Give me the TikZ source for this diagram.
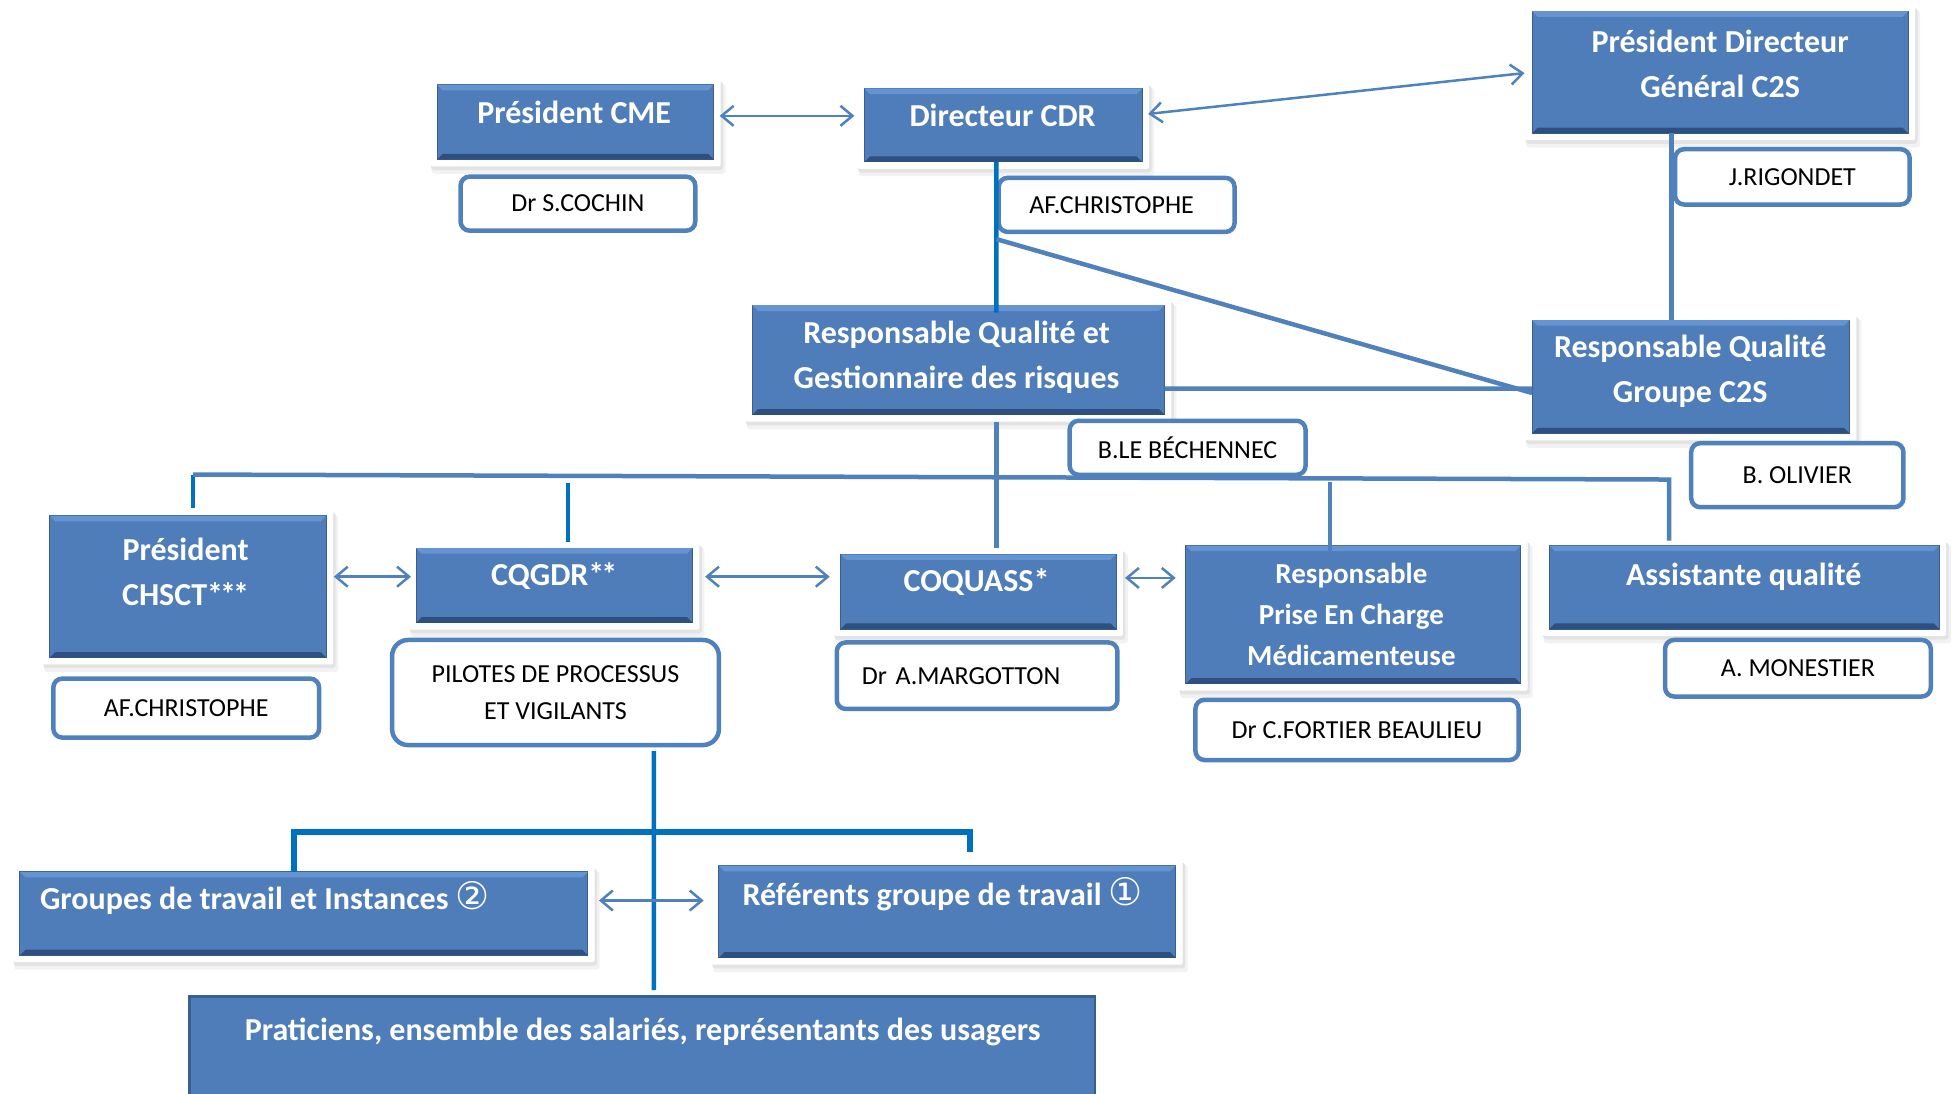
\documentclass[tikz,border=0pt]{standalone}
\usepackage{fontspec}
\setmainfont{Carlito}
\newfontfamily\symf{DejaVu Sans}
\usetikzlibrary{arrows.meta,calc}
\definecolor{boxblue}{RGB}{78,125,186}
\definecolor{bevtop}{RGB}{100,148,210}
\definecolor{bevbot}{RGB}{46,80,128}
\definecolor{boxedge}{RGB}{58,95,143}
\definecolor{lineblue}{RGB}{79,129,189}
\definecolor{darkline}{RGB}{0,112,192}
\newcommand\dpx{1.2455pt}
\newcommand\astk{*\kern-3pt}
% blue box with white frame, soft shadow and bevel: name, x1, y1, x2, y2
\newcommand\bluebox[5]{%
  \fill[black!5, rounded corners=3pt] ({#2-5.5+1},{#3-5.5+5}) rectangle ({#4+5.5+4},{#5+5.5+6});
  \fill[black!11, rounded corners=3pt] ({#2-5.5+0.5},{#3-5.5+3}) rectangle ({#4+5.5+2},{#5+5.5+3});
  \fill[white, rounded corners=2pt] ({#2-5.5},{#3-5.5}) rectangle ({#4+5.5},{#5+5.5});
  \node[bluebox, minimum width={(#4-#2)*\dpx}, minimum height={(#5-#3)*\dpx}] (#1) at ({(#2+#4)/2},{(#3+#5)/2}) {};
  \fill[bevtop] (#2,#3) -- (#4,#3) -- ({#4-4.5},{#3+4.5}) -- ({#2+4.5},{#3+4.5}) -- cycle;
  \fill[bevbot] (#2,#5) -- (#4,#5) -- ({#4-4.5},{#5-4.5}) -- ({#2+4.5},{#5-4.5}) -- cycle;
}
% white rounded name box: [options], name, x1, y1, x2, y2, text
\newcommand\namebox[7][]{%
  \node[namebox, minimum width={(#5-#3)*\dpx-4.5pt}, minimum height={(#6-#4)*\dpx-4.5pt}, #1] (#2) at ({(#3+#5)/2},{(#4+#6)/2}) {#7};
}
\begin{document}
\begin{tikzpicture}[x=1.2455pt, y=-1.2455pt,
  bluebox/.style={rectangle, fill=boxblue, draw=boxedge, line width=1pt, inner sep=0pt, outer sep=0pt},
  namebox/.style={rectangle, draw=lineblue, line width=4.5pt, fill=white, rounded corners=9pt,
    font=\fontsize{26}{37}\selectfont, text=black, align=center, inner sep=0pt},
  ttl/.style={text=white, font=\bfseries\fontsize{32}{45}\selectfont, align=center, inner sep=0pt},
  oneline/.style={text height=24pt, text depth=6pt},
  conn/.style={draw=lineblue, line width=4.5pt},
  dconn/.style={draw=darkline, line width=4.5pt},
  arr/.style={draw=lineblue, line width=2.5pt,
    {Straight Barb[length=12pt,width=20pt]}-{Straight Barb[length=12pt,width=20pt]}},
]
\useasboundingbox (0,0) rectangle (1568,878);
\clip (0,0) rectangle (1568,878);

% ---------- blue boxes ----------
\bluebox{cme}{351}{68}{573}{128}
\bluebox{cdr}{694}{71}{917}{130}
\bluebox{pdg}{1230}{9}{1532}{107}
\bluebox{rqgr}{604}{245}{935}{333}
\bluebox{rqc2s}{1230}{257}{1485}{348}
\bluebox{chsct}{40}{414}{262}{528}
\bluebox{cqgdr}{334}{440}{556}{500}
\bluebox{coquass}{675}{445}{896}{505}
\bluebox{pec}{952}{438}{1221}{549}
\bluebox{asst}{1244}{438}{1557}{505}
\bluebox{groupes}{16}{700}{472}{767}
\bluebox{referents}{577}{695}{944}{769}
\node[bluebox, line width=2.5pt, minimum width={(879-152)*\dpx}, minimum height={100*\dpx}] (prat) at (515.5,850) {};

% ---------- name boxes ----------
\namebox{cochin}{368}{140}{560}{187}{Dr S.COCHIN}
\namebox{christ1}{800}{141}{993}{188}{AF.CHRISTOPHE\kern10pt}
\namebox{rigondet}{1343}{118}{1535}{166}{J.RIGONDET}
\namebox{bechennec}{857}{336}{1050}{383}{B.LE BÉCHENNEC}
\namebox{olivier}{1356}{354}{1530}{409}{B. OLIVIER}
\namebox{christ2}{41}{543}{258}{594}{AF.CHRISTOPHE}
\namebox[rounded corners=16pt]{pilotes}{313}{512}{579}{600}{PILOTES DE PROCESSUS\\ET VIGILANTS}
\namebox[align=left, text width={185*\dpx}]{margotton}{670}{514}{899}{571}{Dr A.MARGOTTON}
\namebox{fortier}{958}{560}{1221}{612}{Dr C.FORTIER BEAULIEU}
\namebox{monestier}{1335}{512}{1552}{561}{A. MONESTIER}

% ---------- connectors ----------
\coordinate (jc) at ($(cdr.south)+(-5.5,0)$);
\coordinate (js) at ($(jc)+(0,62)$);
\draw[dconn] (jc) -- ($(rqgr.north)+(30.5,6)$);
\draw[conn] (js) -- ($(rqc2s.west)+(0,13)$);
\draw[conn] ($(rqgr.east)+(0,23)$) -- ($(rqc2s.west)+(0,9.5)$);
\draw[conn] ($(pdg.south)+(-39,0)$) -- ($(rqc2s.north)+(-15.5,0)$);
\draw[conn] ($(rqgr.south)+(30.5,6)$) -- ($(coquass.north)+(14.5,-5)$);

\coordinate (busL) at ($(chsct.north)+(4,-33)$);
\coordinate (busR) at ($(asst.north)+(-60.5,-53)$);
\draw[dconn] (busL) -- ($(chsct.north)+(4,-6)$);
\draw[dconn] ($(cqgdr.north)+(11,-52)$) -- ($(cqgdr.north)+(11,-5)$);
\draw[conn] ($(pec.north)+(-18.5,-51)$) -- ($(pec.north)+(-18.5,6)$);
\draw[conn] (busL) -- (busR) -- ($(asst.north)+(-60.5,-4)$);

\draw[dconn] ($(pilotes.south)+(79,3)$) -- ($(prat.north)+(9.5,-5)$);
\draw[dconn, line width=6pt] ($(groupes.north)+(-8,0)$) -- ++(0,-32) -- ++(543,0) -- ++(0,16);

\draw[arr, shorten <=6pt, shorten >=10pt] ($(cme.east)+(0,-5)$) -- ($(cdr.west)+(0,-7.5)$);
\draw[arr, shorten <=6pt, shorten >=7.5pt] ($(cdr.east)+(0,-8.5)$) -- (pdg.west);
\draw[arr, shorten <=7.5pt, shorten >=5pt] ($(chsct.east)+(0,-8)$) -- ($(cqgdr.west)+(0,-7)$);
\draw[arr, shorten <=12.5pt, shorten >=11pt] ($(cqgdr.east)+(0,-7)$) -- ($(coquass.west)+(0,-12)$);
\draw[arr, shorten <=9pt, shorten >=10pt] ($(coquass.east)+(0,-11)$) -- ($(pec.west)+(0,-29.5)$);
\draw[arr, shorten <=11pt, shorten >=15pt] ($(groupes.east)+(0,-10.5)$) -- ($(referents.west)+(0,-9)$);

% ---------- titles ----------
\node[ttl,oneline] (cme-t) at (461,92) {Président CME};
\node[ttl,oneline] (cdr-t) at (805,94) {Directeur CDR};
\node[ttl] (pdg-t) at (1381,51) {Président Directeur\\Général C2S};
\node[ttl] (rqgr-t) at (768,287) {Responsable Qualité et\\Gestionnaire des risques};
\node[ttl] (rqc2s-t) at (1357,298) {Responsable Qualité\\Groupe C2S};
\node[ttl] (chsct-t) at (149,459) {Président\\CHSCT\astk\astk*};
\node[ttl,oneline] (cqgdr-t) at (445,463) {CQGDR\astk*};
\node[ttl,oneline] (coquass-t) at (784,468) {COQUASS*};
\node[ttl, font=\bfseries\fontsize{29}{41}\selectfont] (pec-t) at (1085,493) {Responsable\\Prise En Charge\\Médicamenteuse};
\node[ttl,oneline] (asst-t) at (1400,463) {Assistante qualité};
\node[ttl,oneline,anchor=west] (groupes-t) at (32,723) {Groupes de travail et Instances {\symf\mdseries\fontsize{38}{38}\selectfont ②}};
\node[ttl,oneline,anchor=west] (ref-t) at (596,720) {Référents groupe de travail {\symf\mdseries\fontsize{38}{38}\selectfont ①}};
\node[ttl,oneline] (prat-t) at (516,828) {Praticiens, ensemble des salariés, représentants des usagers};
\end{tikzpicture}
\end{document}
